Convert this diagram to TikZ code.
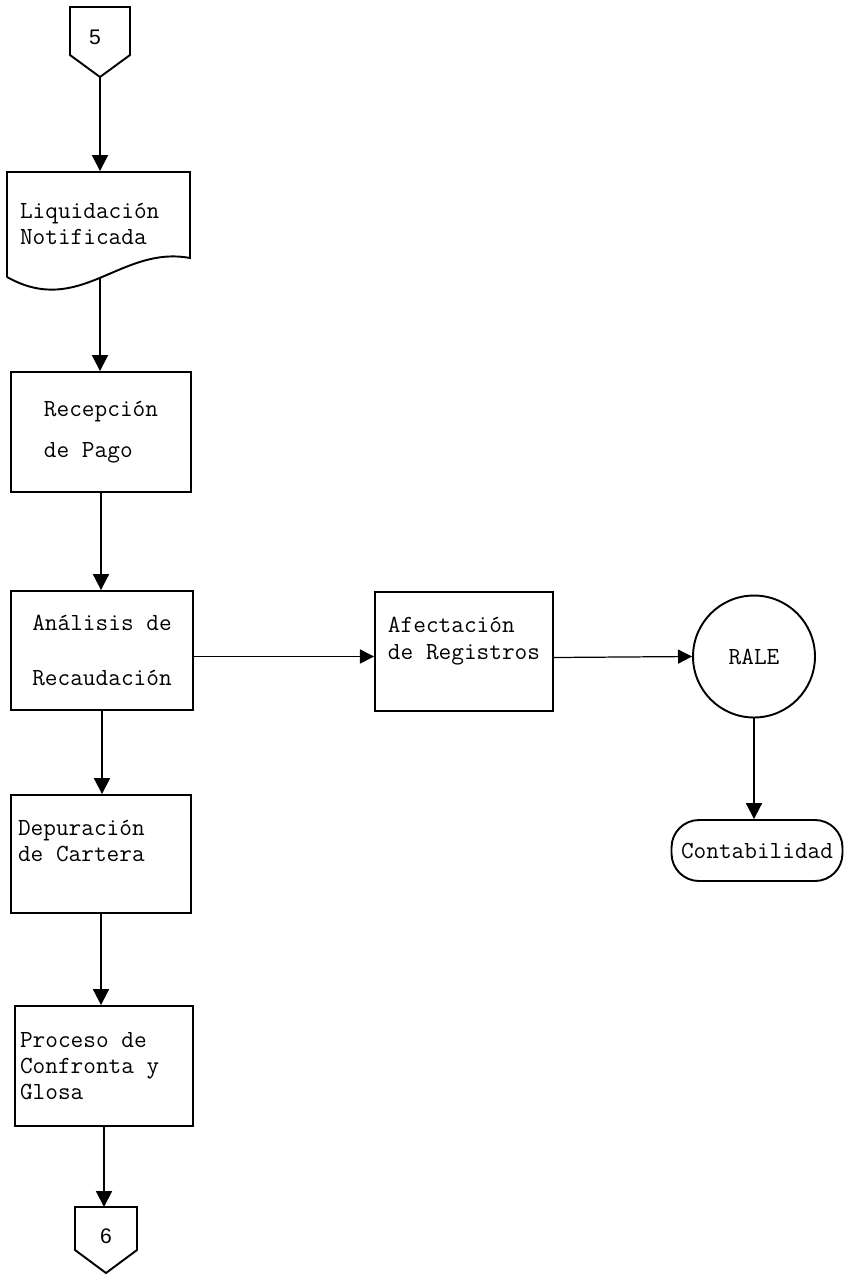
\documentclass[tikz,border=0pt]{standalone}
\usepackage{fontspec}
\newfontfamily\numfont{Liberation Sans}
\usetikzlibrary{arrows.meta}
\tikzset{
    caja/.style={draw, line width=1.1pt, font=\ttfamily\fontsize{14}{15}\selectfont, align=left, inner sep=0pt},
    conector/.style={line width=1.1pt},
    numero/.style={font=\numfont\fontsize{12}{14}\selectfont},
    flecha/.style={line width=1.1pt, -{Triangle[length=9pt,width=9pt]}},
    flechah/.style={line width=0.7pt, -{Triangle[length=8pt,width=8pt]}},
}
\begin{document}
\begin{tikzpicture}[x=0.02cm, y=-0.02cm]
    \useasboundingbox (0,0) rectangle (844,1275);
    % Conector 5
    \draw [conector] (70,7) -- (130,7) -- (130,55) -- (100,77) -- (70,55) -- cycle;
    \node [numero] (c5) at (95,37) {5};
    \coordinate (c5p) at (100,77);
    % Documento
    \node [caja, draw=none, minimum width=3.66cm, minimum height=2.08cm] (liq) at (98.5,224) {\makebox[3.14cm][l]{Liquidación}\\Notificada};
    \draw [conector] (7,277) -- (7,172) -- (190,172) -- (190,258) .. controls (120,245) and (80,318) .. (7,277);
    \coordinate (liqb) at (100,278);
    % Procesos
    \node [caja, minimum width=3.6cm, minimum height=2.4cm] (rec) at (101,432) {Recepción\\[8pt]de Pago};
    \node [caja, minimum width=3.64cm, minimum height=2.38cm] (ana) at (102,650.5) {Análisis de\\[16pt]Recaudación};
    \node [caja, minimum width=3.56cm, minimum height=2.38cm] (afe) at (464,651.5) {Afectación\\de Registros\\\mbox{}};
    \node [caja, circle, minimum size=2.44cm] (rale) at (754,656.5) {RALE};
    \node [caja, rounded corners=0.55cm, minimum width=3.42cm, minimum height=1.22cm] (cont) at (757,850.5) {Contabilidad};
    \node [caja, minimum width=3.6cm, minimum height=2.36cm] (dep) at (101,854) {\makebox[3.32cm][l]{Depuración}\\de Cartera\\\mbox{}};
    \node [caja, minimum width=3.56cm, minimum height=2.4cm] (pro) at (104,1066) {\makebox[3.36cm][l]{Proceso de}\\Confronta y\\Glosa};
    % Conector 6
    \draw [conector] (75,1207) -- (137,1207) -- (137,1250) -- (106,1273) -- (75,1250) -- cycle;
    \node [numero] (c6) at (106,1236) {6};
    \coordinate (c6t) at (106,1207);
    % Flechas
    \draw [flecha] (c5p) -- (c5p |- liq.north);
    \draw [flecha] (liqb) -- (liqb |- rec.north);
    \draw [flecha] (rec.south) -- (rec.south |- ana.north);
    \draw [flecha] (ana.south) -- (ana.south |- dep.north);
    \draw [flecha] (dep.south) -- (dep.south |- pro.north);
    \draw [flecha] (pro.south) -- (pro.south |- c6t);
    \draw [flechah] ([yshift=-0.12cm]ana.east) -- ([yshift=-0.12cm]ana.east -| afe.west);
    \draw [flechah] ([yshift=-0.12cm]afe.east) -- (rale.west);
    \draw [flecha] (rale.south) -- (rale.south |- cont.north);
\end{tikzpicture}
\end{document}
